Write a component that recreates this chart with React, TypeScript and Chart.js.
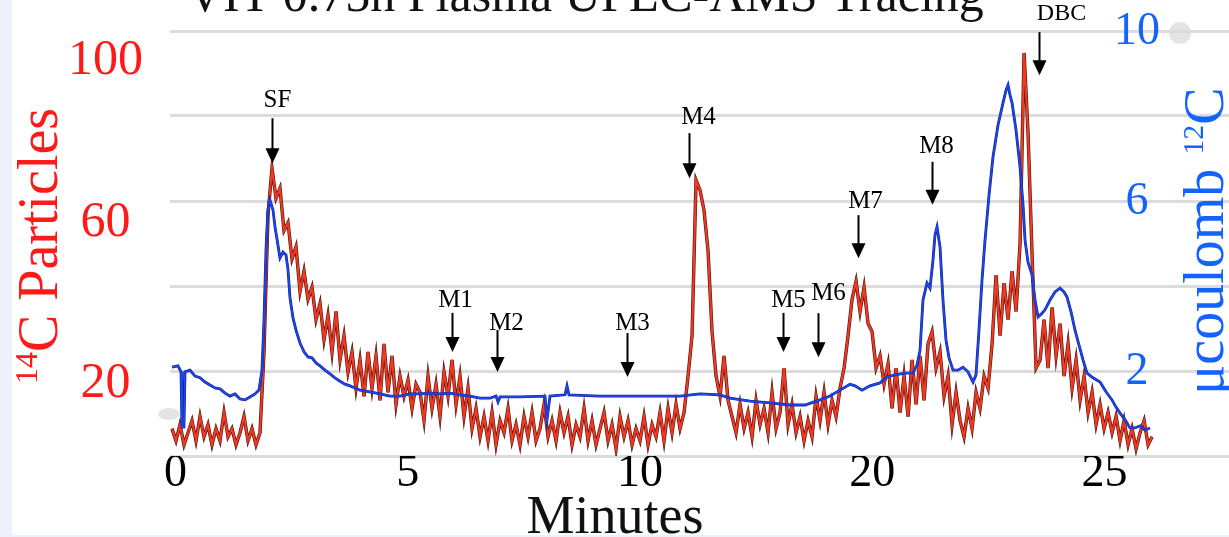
import React, { useEffect, useRef } from 'react';
import { Chart, registerables } from 'chart.js';

Chart.register(...registerables);

// ---------------- text ----------------
const TITLE = 'VIT 0.75h Plasma UPLC-AMS Tracing';
const X_TITLE = 'Minutes';
const LEFT_TITLE_SUP = '14';
const LEFT_TITLE_MAIN = 'C Particles';
const RIGHT_TITLE_MAIN = 'μcoulomb ';
const RIGHT_TITLE_SUP = '12';
const RIGHT_TITLE_END = 'C';

// ---------------- axes ----------------
const X_TICK_POS = [0, 5, 10, 15, 20];
const X_TICK_LABELS = ['0', '5', '10', '20', '25'];
const LEFT_TICKS = [20, 60, 100];
const RIGHT_TICKS = [2, 6, 10];

// ---------------- 14C particles (red), sampled at a fixed interval ----------------
const RED_START = -0.073;
const RED_STEP = 0.0861;
const RED_14C = [
  9, 6, 10, 5, 8, 11, 6, 12, 7, 10, 5, 9, 6, 13, 7, 9, 5, 8, 12, 6, 9, 5, 8,
  28, 62, 73.5, 66, 68.5, 58, 60, 51, 54, 43, 48, 41, 44, 36, 40, 31, 37, 28, 38, 26, 32, 23, 28, 19, 26, 17, 28, 19, 27, 16, 30, 18, 27, 15, 22, 17, 21, 14, 20,
  18, 11, 22, 14, 20, 12, 23, 17, 26, 15, 22, 12, 19, 9, 14,
  7, 12, 6, 13, 5, 11, 8, 14, 6, 10, 5, 12, 7, 13, 6, 9, 15, 7, 11, 6, 13, 8, 12, 5, 10, 7, 14, 6, 11, 5, 9, 13, 6, 10, 4, 12, 7, 11, 5, 9, 6, 12, 5, 10, 7, 13, 6, 14, 8, 15, 9, 13,
  22, 32, 70.5, 68, 63, 53, 33, 22, 17, 27, 16,
  12, 8, 15, 9, 13, 7, 16, 10, 14, 8, 18, 9, 13, 24, 10, 15, 8, 12, 6, 11, 7, 17, 11, 18, 10, 16, 12, 19,
  24, 32, 41, 45.5, 38, 44, 35, 33, 24, 27, 20, 25, 14, 24, 13, 22, 12, 26, 15, 27, 16, 30, 33, 24, 28, 17, 22, 10, 18, 11,
  7, 14, 9, 18, 14, 22, 19, 30, 47, 32, 45, 36, 48, 38, 55, 102, 82, 52, 24, 26, 36, 24, 39, 27, 35, 22, 30, 19, 26, 16, 22, 13, 18, 10, 15, 9, 13, 8, 12, 6, 11, 5, 9, 4, 8, 11, 5, 7,
];

// ---------------- 12C current (blue) ----------------
const BLUE_MIN = [
  -0.073, 0.056, 0.121, 0.142, 0.185, 0.207, 0.314, 0.422, 0.529, 0.637, 0.745, 0.852, 0.96, 1.068, 1.175, 1.283, 1.39, 1.498, 1.606, 1.713,
  1.799, 1.864, 1.907, 1.95, 1.993, 2.036, 2.101, 2.144, 2.208, 2.251, 2.316, 2.381, 2.424, 2.467, 2.531, 2.596, 2.682, 2.768, 2.854, 2.94,
  3.026, 3.112, 3.22, 3.328, 3.435, 3.543, 3.65, 3.758, 3.866, 3.973, 4.189, 4.404, 4.619, 4.834, 5.049, 5.265, 5.48, 5.695, 5.91, 6.126,
  6.341, 6.556, 6.771, 6.901, 6.944, 6.987, 7.417, 7.955, 7.998, 8.063, 8.386, 8.429, 8.472, 9.139, 10.0, 10.861, 11.291, 11.722, 11.937, 12.368,
  12.798, 13.229, 13.551, 13.874, 14.089, 14.305, 14.52, 14.628, 14.778, 14.951, 15.166, 15.316, 15.489, 15.704, 15.876, 15.962, 16.027, 16.091, 16.177, 16.242,
  16.306, 16.349, 16.393, 16.457, 16.521, 16.586, 16.651, 16.737, 16.844, 16.952, 17.059, 17.167, 17.232, 17.296, 17.361, 17.426, 17.512, 17.598, 17.706, 17.813,
  17.878, 17.921, 17.964, 18.007, 18.093, 18.179, 18.244, 18.287, 18.351, 18.437, 18.502, 18.567, 18.653, 18.717, 18.825, 18.932, 19.04, 19.126, 19.191, 19.277,
  19.363, 19.449, 19.535, 19.621, 19.75, 19.901, 20.03, 20.159, 20.245, 20.332, 20.439, 20.547, 20.654, 20.762, 20.869, 20.977,
];
const BLUE_12C = [
  2.09, 2.12, 1.98, 0.68, 0.68, 1.98, 2.02, 1.88, 1.84, 1.74, 1.67, 1.6, 1.58, 1.48, 1.41, 1.46, 1.34, 1.32, 1.39, 1.46,
  1.55, 2.02, 3.2, 4.85, 5.79, 6.02, 5.79, 5.39, 4.96, 4.66, 4.8, 4.73, 4.38, 3.72, 3.25, 2.96, 2.66, 2.45, 2.33, 2.31,
  2.19, 2.12, 2.02, 1.93, 1.84, 1.76, 1.69, 1.65, 1.6, 1.55, 1.51, 1.46, 1.41, 1.41, 1.46, 1.46, 1.48, 1.46, 1.48, 1.44,
  1.41, 1.36, 1.36, 1.41, 1.27, 1.39, 1.39, 1.41, 0.85, 1.41, 1.44, 1.65, 1.44, 1.41, 1.41, 1.41, 1.46, 1.44, 1.36, 1.29,
  1.25, 1.2, 1.2, 1.32, 1.41, 1.55, 1.69, 1.65, 1.55, 1.65, 1.72, 1.86, 1.91, 1.95, 1.95, 2.14, 2.49, 3.67, 4.07, 3.95,
  4.61, 5.2, 5.39, 4.92, 3.67, 2.73, 2.31, 2.02, 2.02, 2.09, 1.98, 1.74, 1.91, 2.96, 4.14, 5.08, 6.14, 7.04, 7.79, 8.31,
  8.61, 8.73, 8.49, 8.31, 7.67, 6.8, 5.91, 5.08, 4.56, 4.26, 3.67, 3.27, 3.36, 3.44, 3.67, 3.86, 3.95, 3.86, 3.74, 3.39,
  2.96, 2.61, 2.26, 1.95, 1.84, 1.74, 1.51, 1.32, 1.15, 1.01, 0.85, 0.66, 0.66, 0.71, 0.61, 0.66,
];

// ---------------- peak markers (x in axis minutes, arrow tip in 14C units) ----------------
const PEAK_LABELS = ['SF', 'M1', 'M2', 'M3', 'M4', 'M5', 'M6', 'M7', 'M8', 'DBC'];
const PEAK_MIN = [2.079, 5.953, 6.922, 9.72, 11.055, 13.078, 13.831, 14.692, 16.285, 18.588];
const PEAK_TIP = [74.7, 28.0, 23.0, 21.8, 71.0, 28.0, 26.7, 51.2, 64.4, 96.5];

// ---------------- styling ----------------
const SERIF = '"Liberation Serif", "Times New Roman", Times, serif';
const RED = '#ff1a1a';
const BLUE_TXT = '#1463ff';
const ARROW_LEN = [45, 39, 42, 44, 45, 39, 44, 43, 43, 43];
const LABEL_GAP = [18, 12, 7, 10, 16, 12, 20, 14, 15, 18];
const LABEL_DX = [5, 3, 9, 5, 9, 5, 10, 7, 4, 22];

const decor = {
  id: 'decor',
  beforeDraw(chart: any) {
    const { ctx, width, height } = chart;
    ctx.save();
    ctx.fillStyle = '#ffffff';
    ctx.fillRect(0, 0, width, height);
    ctx.fillStyle = '#eef0fb';
    ctx.fillRect(0, 0, 12, height);
    ctx.fillRect(0, height - 2, width, 2);
    ctx.fillStyle = '#e4e4e4';
    ctx.beginPath();
    ctx.ellipse(169, 414, 11, 6, 0, 0, Math.PI * 2);
    ctx.fill();
    ctx.beginPath();
    ctx.arc(1180, 33, 11, 0, Math.PI * 2);
    ctx.fill();
    ctx.restore();
  },
  afterDraw(chart: any) {
    const { ctx } = chart;
    const xs = chart.scales.x;
    const ys = chart.scales.y;
    const y1 = chart.scales.y1;
    ctx.save();

    // main title (cropped at top)
    ctx.fillStyle = '#111';
    ctx.font = `50px ${SERIF}`;
    ctx.textAlign = 'left';
    ctx.textBaseline = 'alphabetic';
    ctx.fillText(TITLE, 187, 11);

    // x title
    ctx.font = `54px ${SERIF}`;
    ctx.textAlign = 'center';
    ctx.fillText(X_TITLE, 615, 533);

    // left title with superscript
    ctx.fillStyle = RED;
    ctx.save();
    ctx.translate(57, 246);
    ctx.rotate(-Math.PI / 2);
    ctx.textAlign = 'left';
    ctx.font = `32px ${SERIF}`;
    const wSup = ctx.measureText(LEFT_TITLE_SUP).width;
    ctx.font = `56px ${SERIF}`;
    const wMain = ctx.measureText(LEFT_TITLE_MAIN).width;
    let sx = -(wSup + wMain) / 2;
    ctx.font = `32px ${SERIF}`;
    ctx.fillText(LEFT_TITLE_SUP, sx, -20);
    ctx.font = `56px ${SERIF}`;
    ctx.fillText(LEFT_TITLE_MAIN, sx + wSup, 0);
    ctx.restore();

    // right title with superscript
    ctx.fillStyle = BLUE_TXT;
    ctx.save();
    ctx.translate(1223, 241);
    ctx.rotate(-Math.PI / 2);
    ctx.textAlign = 'left';
    ctx.font = `56px ${SERIF}`;
    const w1 = ctx.measureText(RIGHT_TITLE_MAIN).width;
    const w3 = ctx.measureText(RIGHT_TITLE_END).width;
    ctx.font = `30px ${SERIF}`;
    const w2 = ctx.measureText(RIGHT_TITLE_SUP).width;
    sx = -(w1 + w2 + w3) / 2;
    ctx.font = `56px ${SERIF}`;
    ctx.fillText(RIGHT_TITLE_MAIN, sx, 0);
    ctx.fillText(RIGHT_TITLE_END, sx + w1 + w2, 0);
    ctx.font = `30px ${SERIF}`;
    ctx.fillText(RIGHT_TITLE_SUP, sx + w1, -20);
    ctx.restore();

    // right tick labels
    ctx.font = `46px ${SERIF}`;
    ctx.textAlign = 'center';
    ctx.textBaseline = 'middle';
    RIGHT_TICKS.forEach((v) => {
      ctx.fillText(String(v), 1137, y1.getPixelForValue(v) + 1);
    });

    // peak arrows
    ctx.fillStyle = '#000';
    ctx.strokeStyle = '#000';
    ctx.lineWidth = 2;
    PEAK_LABELS.forEach((lab, i) => {
      const px = Math.round(xs.getPixelForValue(PEAK_MIN[i])) + 0.5;
      const tip = ys.getPixelForValue(PEAK_TIP[i]);
      const top = tip - ARROW_LEN[i];
      ctx.beginPath();
      ctx.moveTo(px, top);
      ctx.lineTo(px, tip - 12);
      ctx.stroke();
      ctx.beginPath();
      ctx.moveTo(px - 7, tip - 15);
      ctx.lineTo(px + 7, tip - 15);
      ctx.lineTo(px, tip);
      ctx.closePath();
      ctx.fill();
      ctx.font = `${lab === 'DBC' ? 24 : 25}px ${SERIF}`;
      ctx.textAlign = 'center';
      ctx.textBaseline = 'middle';
      ctx.fillText(lab, px + LABEL_DX[i], top - LABEL_GAP[i]);
    });
    ctx.restore();
  },
};

export default function App() {
  const ref = useRef<HTMLCanvasElement | null>(null);

  useEffect(() => {
    if (!ref.current) return;
    Chart.defaults.font.family = SERIF;
    const redPts = RED_14C.map((v, i) => ({ x: RED_START + i * RED_STEP, y: v }));
    const bluePts = BLUE_12C.map((v, i) => ({ x: BLUE_MIN[i], y: v }));

    const chart = new Chart(ref.current, {
      type: 'line',
      data: {
        datasets: [
          { data: bluePts, yAxisID: 'y1', borderColor: '#1f46ee', borderWidth: 1.7, pointRadius: 0, tension: 0 },
          { data: bluePts, yAxisID: 'y1', borderColor: '#0f2390', borderWidth: 2.8, pointRadius: 0, tension: 0 },
          { data: redPts, yAxisID: 'y', borderColor: '#ee3a22', borderWidth: 2.2, pointRadius: 0, tension: 0 },
          { data: redPts, yAxisID: 'y', borderColor: '#50100a', borderWidth: 3.4, pointRadius: 0, tension: 0 },
        ],
      },
      options: {
        responsive: false,
        animation: false,
        devicePixelRatio: 1,
        layout: { padding: { top: 31, left: 0, right: 0, bottom: 0 }, autoPadding: false },
        plugins: { legend: { display: false }, tooltip: { enabled: false } },
        scales: {
          x: {
            type: 'linear',
            min: -0.116,
            max: 22.677,
            grid: { display: false, drawTicks: false },
            border: { display: false },
            afterBuildTicks: (axis: any) => {
              axis.ticks = X_TICK_POS.map((v) => ({ value: v }));
            },
            afterFit: (axis: any) => {
              axis.height = 81;
              axis.paddingLeft = 0;
              axis.paddingRight = 0;
            },
            ticks: {
              autoSkip: false,
              maxRotation: 0,
              color: '#000',
              padding: -5,
              font: { size: 46, lineHeight: 1 },
              callback: (_v: any, i: number) => X_TICK_LABELS[i],
            },
          },
          y: {
            type: 'linear',
            position: 'left',
            min: 2.23,
            max: 107.43,
            grid: { display: false, drawTicks: false },
            border: { display: false },
            afterBuildTicks: (axis: any) => {
              axis.ticks = LEFT_TICKS.map((v) => ({ value: v }));
            },
            afterFit: (axis: any) => {
              axis.width = 170;
              axis.paddingTop = 0;
              axis.paddingBottom = 0;
            },
            ticks: {
              color: RED,
              crossAlign: 'center',
              padding: 27,
              font: { size: 50, lineHeight: 1 },
              callback: (v: any) => String(v),
            },
          },
          y1: {
            type: 'linear',
            position: 'right',
            min: 0,
            max: 10,
            grid: { display: true, color: '#dcdcdc', lineWidth: 3, drawTicks: false },
            border: { display: false },
            ticks: { display: false, stepSize: 2 },
            afterFit: (axis: any) => {
              axis.width = 0;
              axis.paddingTop = 0;
              axis.paddingBottom = 0;
            },
          },
        },
      },
      plugins: [decor],
    } as any);
    return () => chart.destroy();
  }, []);

  return (
    <div style={{ position: 'absolute', left: 0, top: 0, width: 1229, height: 537 }}>
      <canvas ref={ref} width={1229} height={537} style={{ display: 'block' }} />
    </div>
  );
}
